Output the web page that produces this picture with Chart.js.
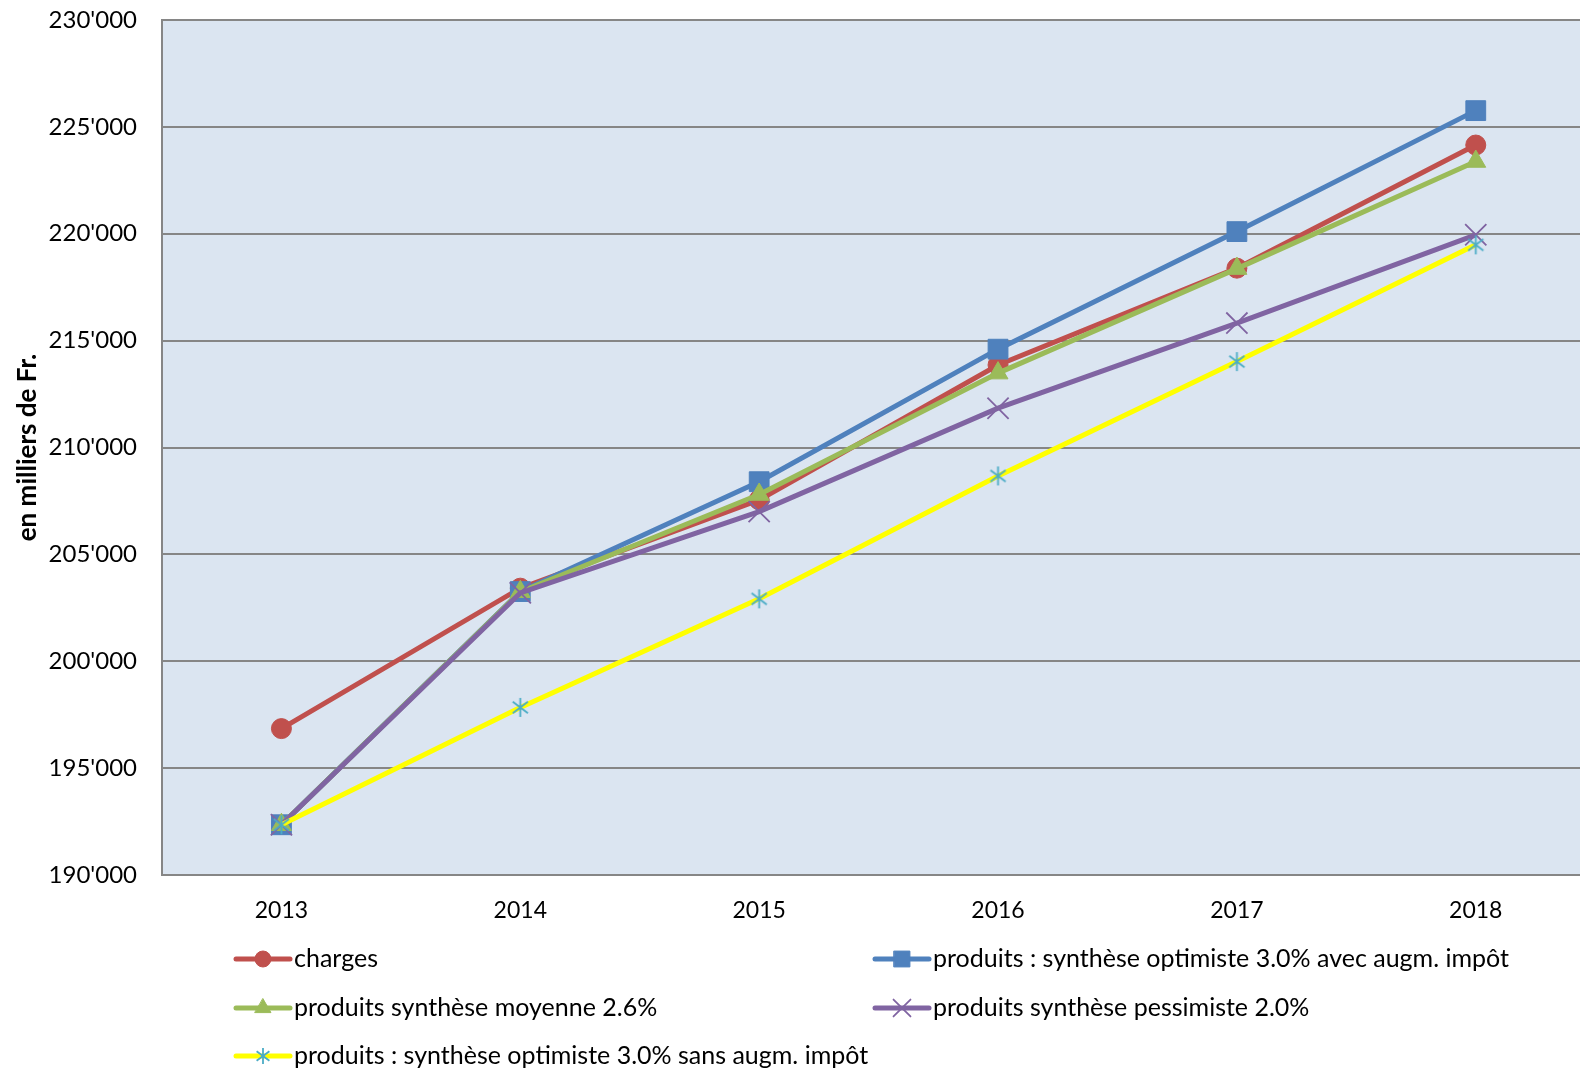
<!DOCTYPE html>
<html lang="fr">
<head>
<meta charset="UTF-8">
<title>Charges et produits</title>
<script src="https://cdn.jsdelivr.net/npm/chart.js@4.4.1/dist/chart.umd.min.js"></script>
<style>
  html, body { margin: 0; padding: 0; background: #fff; overflow: hidden; }
  #wrap { position: relative; width: 1612px; height: 1072px; }
  canvas { display: block; }
</style>
</head>
<body>
<div id="wrap"><canvas id="chart" width="1612" height="1072"></canvas></div>
<script>
// data
const years = ['2013', '2014', '2015', '2016', '2017', '2018'];
const charges = [196850, 203420, 207550, 213860, 218390, 224150];
const optimisteAvec = [192350, 203260, 208400, 214600, 220100, 225760];
const moyenne = [192350, 203250, 207800, 213480, 218370, 223380];
const pessimiste = [192350, 203200, 207000, 211840, 215820, 219950];
const optimisteSans = [192350, 197840, 202920, 208670, 214020, 219480];

const seriesNames = [
  'charges',
  'produits : synthèse optimiste 3.0% avec augm. impôt',
  'produits synthèse moyenne 2.6%',
  'produits synthèse pessimiste 2.0%',
  'produits : synthèse optimiste 3.0% sans augm. impôt'
];
const yTicks = { min: 190000, max: 230000, step: 5000 };

const FONT = 'Lato, "Open Sans", sans-serif';

function fmt(v) {
  return String(v).replace(/\B(?=(\d{3})+(?!\d))/g, "'");
}

// excel style asterisk: vertical bar + X, no horizontal bar
function asterisk(size, color) {
  const c = document.createElement('canvas');
  c.width = size; c.height = size;
  const g = c.getContext('2d');
  const m = size / 2, r = size / 2 - 1;
  g.strokeStyle = color;
  g.lineWidth = 1.8;
  g.beginPath();
  g.moveTo(m, m - r); g.lineTo(m, m + r);
  const d = r * 0.8;
  g.moveTo(m - d, m - d * 0.75); g.lineTo(m + d, m + d * 0.75);
  g.moveTo(m - d, m + d * 0.75); g.lineTo(m + d, m - d * 0.75);
  g.stroke();
  return c;
}
const starMark = asterisk(21, '#4BACC6');
const starMarkSmall = asterisk(18, '#4BACC6');

// plot background
const plotBg = {
  id: 'plotBg',
  beforeDraw(chart) {
    const a = chart.chartArea, ctx = chart.ctx;
    ctx.save();
    ctx.fillStyle = '#DBE5F1';
    ctx.fillRect(a.left, a.top, a.right - a.left, a.bottom - a.top);
    ctx.restore();
  }
};

// two-column legend like the spreadsheet one
const legendCols = [236, 875];
const legendRows = [959, 1008, 1056];
const sideLegend = {
  id: 'sideLegend',
  afterDraw(chart) {
    const ctx = chart.ctx;
    const sets = chart.data.datasets;
    const slots = [[0, 0], [1, 0], [0, 1], [1, 1], [0, 2]];
    ctx.save();
    sets.forEach((ds, i) => {
      const x = legendCols[slots[i][0]], y = legendRows[slots[i][1]];
      ctx.strokeStyle = ds.borderColor;
      ctx.lineWidth = 5;
      ctx.lineCap = 'round';
      ctx.beginPath();
      ctx.moveTo(x, y);
      ctx.lineTo(x + 54, y);
      ctx.stroke();
      ctx.fillStyle = ds.pointBackgroundColor;
      ctx.strokeStyle = ds.pointBorderColor;
      ctx.lineWidth = ds.pointBorderWidth;
      const style = ds.pointStyle === starMark ? starMarkSmall : ds.pointStyle;
      if (Chart.helpers && Chart.helpers.drawPoint) {
        Chart.helpers.drawPoint(ctx, {
          pointStyle: style, rotation: 0,
          radius: ds.pointRadius * 0.8, borderWidth: ds.pointBorderWidth
        }, x + 27, y);
      }
      ctx.fillStyle = '#000';
      ctx.font = '25px ' + FONT;
      ctx.textBaseline = 'middle';
      ctx.textAlign = 'left';
      ctx.fillText(ds.label, x + 58, y);
    });
    ctx.restore();
  }
};

const lineW = 5;

new Chart(document.getElementById('chart'), {
  type: 'line',
  data: {
    labels: years,
    datasets: [
      {
        label: seriesNames[0], data: charges, order: 4,
        borderColor: '#C0504D', borderWidth: lineW,
        pointStyle: 'circle', pointRadius: 10,
        pointBackgroundColor: '#C0504D', pointBorderColor: '#C0504D', pointBorderWidth: 1
      },
      {
        label: seriesNames[1], data: optimisteAvec, order: 3,
        borderColor: '#4F81BD', borderWidth: lineW,
        pointStyle: 'rect', pointRadius: 14,
        pointBackgroundColor: '#4F81BD', pointBorderColor: '#4F81BD', pointBorderWidth: 1
      },
      {
        label: seriesNames[2], data: moyenne, order: 2,
        borderColor: '#9BBB59', borderWidth: lineW,
        pointStyle: 'triangle', pointRadius: 11.5,
        pointBackgroundColor: '#9BBB59', pointBorderColor: '#9BBB59', pointBorderWidth: 1
      },
      {
        label: seriesNames[3], data: pessimiste, order: 1,
        borderColor: '#8064A2', borderWidth: lineW,
        pointStyle: 'crossRot', pointRadius: 15,
        pointBackgroundColor: '#8064A2', pointBorderColor: '#8064A2', pointBorderWidth: 1.8
      },
      {
        label: seriesNames[4], data: optimisteSans, order: 0,
        borderColor: '#FFFF00', borderWidth: lineW,
        pointStyle: starMark, pointRadius: 10,
        pointBackgroundColor: '#4BACC6', pointBorderColor: '#4BACC6', pointBorderWidth: 1.8
      }
    ]
  },
  options: {
    responsive: false,
    animation: false,
    layout: { padding: { left: 0, top: 20, right: 6, bottom: 0 } },
    plugins: {
      legend: { display: false },
      tooltip: { enabled: false }
    },
    elements: { line: { tension: 0 } },
    scales: {
      x: {
        offset: true,
        grid: { display: false, drawTicks: false },
        border: { display: true, color: '#868686', width: 2 },
        ticks: { color: '#000', font: { family: FONT, size: 23 }, padding: 22 },
        afterFit(scale) {
          scale.height = 197;
          scale.paddingLeft = 0;
          scale.paddingRight = 0;
        }
      },
      y: {
        min: yTicks.min,
        max: yTicks.max,
        grid: { color: '#868686', lineWidth: 2, drawTicks: false },
        border: { display: true, color: '#868686', width: 2 },
        ticks: {
          stepSize: yTicks.step,
          color: '#000',
          font: { family: FONT, size: 24 },
          padding: 25,
          callback: v => fmt(v)
        },
        title: {
          display: true,
          text: 'en milliers de Fr.',
          color: '#000',
          font: { family: FONT, size: 26, weight: 'bold' },
          padding: { top: 12, bottom: 0 }
        },
        afterFit(scale) {
          scale.width = 162;
          scale.paddingTop = 0;
          scale.paddingBottom = 0;
        }
      }
    }
  },
  plugins: [plotBg, sideLegend]
});
</script>
</body>
</html>
